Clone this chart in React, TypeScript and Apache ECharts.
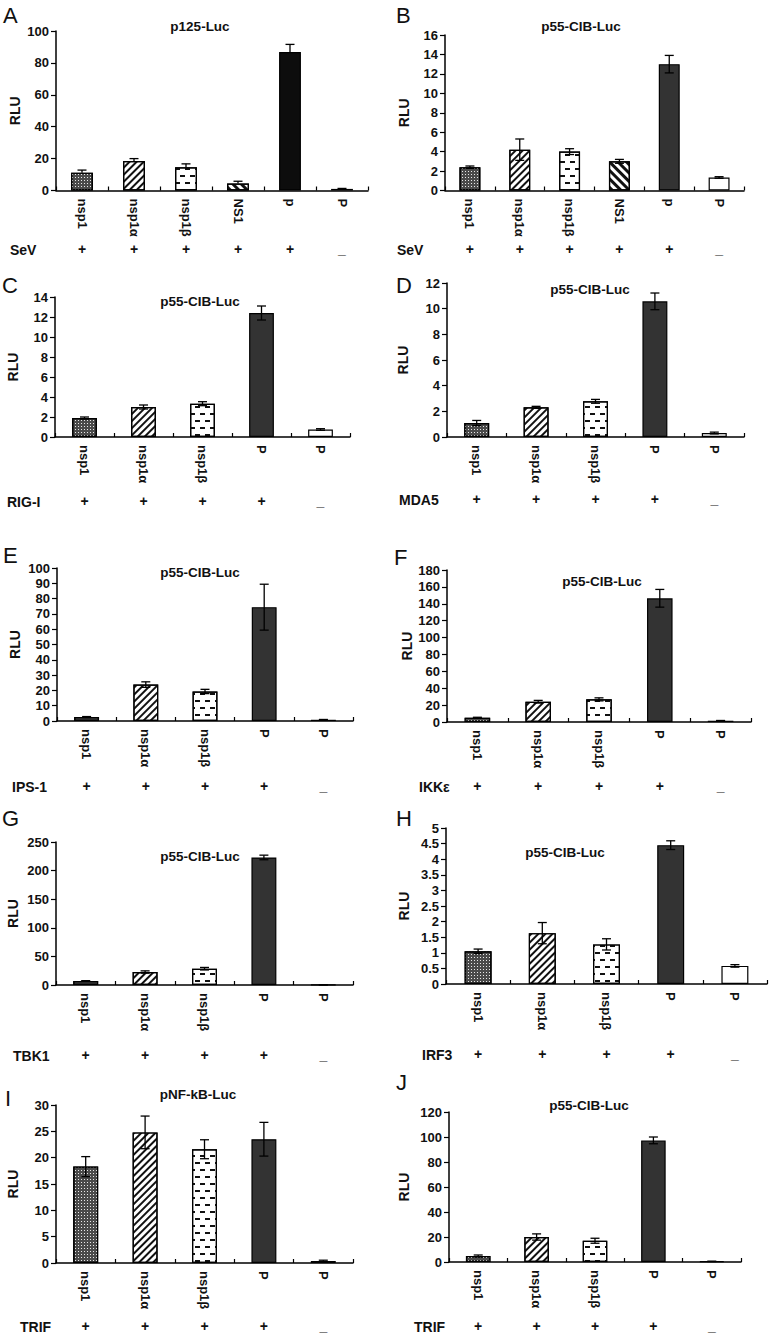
import React, { useEffect, useRef } from "react";
import * as echarts from "echarts";

// ---------------- DATA ----------------
const categoriesSeV = ["nsp1", "nsp1α", "nsp1β", "NS1", "p", "P"];
const categoriesOther = ["nsp1", "nsp1α", "nsp1β", "P", "P"];

const signsSeV = ["+", "+", "+", "+", "+", "_"];
const signsOther = ["+", "+", "+", "+", "_"];

const panelLetters = ["A", "B", "C", "D", "E", "F", "G", "H", "I", "J"];
const panelTitles = [
  "p125-Luc",
  "p55-CIB-Luc",
  "p55-CIB-Luc",
  "p55-CIB-Luc",
  "p55-CIB-Luc",
  "p55-CIB-Luc",
  "p55-CIB-Luc",
  "p55-CIB-Luc",
  "pNF-kB-Luc",
  "p55-CIB-Luc",
];
const stimulusLabels = ["SeV", "SeV", "RIG-I", "MDA5", "IPS-1", "IKKε", "TBK1", "IRF3", "TRIF", "TRIF"];

const yMax = [100, 16, 14, 12, 100, 180, 250, 5, 30, 120];
const yInterval = [20, 2, 2, 2, 10, 20, 50, 0.5, 5, 20];

const valuesA = [11.2, 18.5, 14.6, 4.4, 86.8, 1.0];
const errorsA = [1.6, 1.5, 2.1, 1.4, 4.8, 0.3];
const valuesB = [2.4, 4.2, 4.0, 3.0, 13.0, 1.34];
const errorsB = [0.12, 1.1, 0.3, 0.2, 0.9, 0.08];
const valuesC = [1.9, 3.0, 3.33, 12.4, 0.75];
const errorsC = [0.1, 0.2, 0.2, 0.7, 0.08];
const valuesD = [1.09, 2.31, 2.78, 10.57, 0.31];
const errorsD = [0.2, 0.08, 0.15, 0.65, 0.07];
const valuesE = [2.6, 23.8, 19.3, 74.4, 0.8];
const errorsE = [0.3, 1.8, 1.4, 15, 0.2];
const valuesF = [5.1, 24, 26.8, 146.5, 1.5];
const errorsF = [0.5, 1.6, 1.8, 10.5, 0.3];
const valuesG = [7, 22.7, 28.5, 223, 0.3];
const errorsG = [0.6, 2, 2.2, 4, 0.1];
const valuesH = [1.05, 1.63, 1.27, 4.45, 0.58];
const errorsH = [0.07, 0.34, 0.18, 0.14, 0.04];
const valuesI = [18.3, 24.8, 21.6, 23.5, 0.38];
const errorsI = [1.9, 3.1, 1.8, 3.2, 0.15];
const valuesJ = [4.8, 20, 17, 97.3, 0.5];
const errorsJ = [0.8, 2.5, 2, 2.7, 0.1];

const panelValues = [valuesA, valuesB, valuesC, valuesD, valuesE, valuesF, valuesG, valuesH, valuesI, valuesJ];
const panelErrors = [errorsA, errorsB, errorsC, errorsD, errorsE, errorsF, errorsG, errorsH, errorsI, errorsJ];

// ---------------- LAYOUT / STYLE ----------------
// [axisLeft, axisRight, axisTop, axisZero]
const gridBoxes = [
  [56, 368, 31, 190.5],
  [445, 744, 35, 190.5],
  [55, 350, 297, 437],
  [447, 744, 283, 437],
  [57, 353, 568, 721],
  [447, 751, 570, 722],
  [56, 353, 842, 985],
  [446, 767, 828, 984],
  [56, 353, 1105, 1263],
  [449, 741, 1112, 1262],
];
const titlePos = [
  [200, 27], [581, 27], [200, 302], [590, 290], [200, 573],
  [602, 582], [200, 857], [565, 853], [198, 1095], [589, 1106],
];
const letterPos = [
  [3, 15], [396, 15], [2, 285], [396, 285], [3, 555],
  [394, 557], [2, 818], [396, 818], [5, 1098], [396, 1082],
];
const rowPos = [
  [10, 250], [397, 250], [7, 502], [399, 500], [12, 787],
  [419, 787], [13, 1056], [422, 1055], [20, 1327], [414, 1327],
];
const rluDist = [41, 41, 42, 44, 42, 40, 43, 42, 43, 45];

const FONT = '"Liberation Sans", Arial, Helvetica, sans-serif';

const BORDER = { borderColor: "#000", borderWidth: 1.2 };

function styleFor(kind: string, panel: number) {
  switch (kind) {
    case "dots":
      return {
        ...BORDER,
        color: "#4a4a4a",
        decal: {
          symbol: "rect",
          symbolSize: 1,
          color: "#e8e8e8",
          backgroundColor: "#4a4a4a",
          dashArrayX: [1, 2],
          dashArrayY: [1, 2],
        },
      };
    case "diag":
      return {
        ...BORDER,
        color: "#fff",
        decal: {
          symbol: "rect",
          symbolSize: 1,
          color: "#111",
          backgroundColor: "#fff",
          dashArrayX: [1, 0],
          dashArrayY: [1.4, 2.4],
          rotation: -Math.PI / 4,
        },
      };
    case "dash":
      return {
        ...BORDER,
        color: "#fff",
        decal: {
          symbol: "rect",
          symbolSize: 1,
          color: "#111",
          backgroundColor: "#fff",
          dashArrayX: [[5, 5], [0, 5, 5, 0]],
          dashArrayY: [1.3, 4.5],
          rotation: 0,
        },
      };
    case "ns1":
      return {
        ...BORDER,
        color: "#fff",
        decal: {
          symbol: "rect",
          symbolSize: 1,
          color: "#111",
          backgroundColor: "#fff",
          dashArrayX: [1, 0],
          dashArrayY: [2.6, 3],
          rotation: Math.PI / 4,
        },
      };
    case "solid":
      return { ...BORDER, color: panel === 0 ? "#0d0d0d" : "#333333" };
    default:
      return { ...BORDER, color: "#ffffff" };
  }
}

const kindsSeV = ["dots", "diag", "dash", "ns1", "solid", "white"];
const kindsOther = ["dots", "diag", "dash", "solid", "white"];

function buildOption() {
  const grid: any[] = [];
  const xAxis: any[] = [];
  const yAxis: any[] = [];
  const series: any[] = [];
  const title: any[] = [];
  const graphic: any[] = [];

  for (let p = 0; p < 10; p++) {
    const [l, r, t, b] = gridBoxes[p];
    const isSeV = p < 2;
    const cats = isSeV ? categoriesSeV : categoriesOther;
    const signs = isSeV ? signsSeV : signsOther;
    const kinds = isSeV ? kindsSeV : kindsOther;
    const vals = panelValues[p];
    const errs = panelErrors[p];

    grid.push({ left: l, top: t, width: r - l, height: b - t, containLabel: false });

    xAxis.push({
      type: "category",
      gridIndex: p,
      data: cats,
      position: "bottom",
      axisLine: { show: true, lineStyle: { color: "#000", width: 1.5 } },
      axisTick: { show: true, inside: true, length: 4, lineStyle: { color: "#000", width: 1.2 } },
      axisLabel: {
        interval: 0,
        rotate: -90,
        margin: 8,
        color: "#111",
        fontSize: 13,
        fontWeight: "bold",
        fontFamily: FONT,
      },
      splitLine: { show: false },
    });
    const rowY = rowPos[p][1];
    xAxis.push({
      type: "category",
      gridIndex: p,
      data: signs,
      position: "bottom",
      offset: rowY - b - 8,
      axisLine: { show: false },
      axisTick: { show: false },
      axisLabel: {
        interval: 0,
        margin: 0,
        color: "#111",
        fontSize: 14,
        fontWeight: "bold",
        fontFamily: FONT,
      },
      splitLine: { show: false },
    });

    yAxis.push({
      type: "value",
      gridIndex: p,
      min: 0,
      max: yMax[p],
      interval: yInterval[p],
      name: "RLU",
      nameLocation: "middle",
      nameRotate: 90,
      nameGap: rluDist[p] - 7,
      nameTextStyle: { color: "#111", fontSize: 14, fontWeight: "bold", fontFamily: FONT },
      axisLine: { show: true, lineStyle: { color: "#000", width: 1.5 } },
      axisTick: { show: true, inside: false, length: 5, lineStyle: { color: "#000", width: 1.2 } },
      axisLabel: { margin: 7, color: "#111", fontSize: 13, fontWeight: "bold", fontFamily: FONT },
      splitLine: { show: false },
    });

    series.push({
      type: "bar",
      xAxisIndex: 2 * p,
      yAxisIndex: p,
      barWidth: "42%",
      data: vals.map((v, i) => ({ value: v, itemStyle: styleFor(kinds[i], p) })),
      z: 2,
    });

    const upperOnly = p === 0;
    series.push({
      type: "custom",
      xAxisIndex: 2 * p,
      yAxisIndex: p,
      data: vals.map((v, i) => [i, v, errs[i]]),
      encode: { x: 0, y: 1 },
      z: 5,
      renderItem: (params: any, api: any) => {
        const i = api.value(0);
        const v = api.value(1);
        const e = api.value(2);
        const top = api.coord([i, v + e]);
        const bot = api.coord([i, upperOnly ? v : Math.max(0, v - e)]);
        const hw = 4.5;
        const st = { stroke: "#000", lineWidth: 1.3 };
        const children: any[] = [
          { type: "line", shape: { x1: top[0], y1: top[1], x2: bot[0], y2: bot[1] }, style: st },
          { type: "line", shape: { x1: top[0] - hw, y1: top[1], x2: top[0] + hw, y2: top[1] }, style: st },
        ];
        if (!upperOnly) {
          children.push({
            type: "line",
            shape: { x1: bot[0] - hw, y1: bot[1], x2: bot[0] + hw, y2: bot[1] },
            style: st,
          });
        }
        return { type: "group", children };
      },
    });

    title.push({
      text: panelTitles[p],
      left: titlePos[p][0],
      top: titlePos[p][1] - 8,
      textAlign: "center",
      padding: 0,
      textStyle: { color: "#111", fontSize: 13.5, fontWeight: "bold", fontFamily: FONT },
    });

    graphic.push({
      type: "text",
      x: letterPos[p][0],
      y: letterPos[p][1],
      style: {
        text: panelLetters[p],
        fill: "#111",
        fontSize: 22,
        fontWeight: "normal",
        fontFamily: FONT,
        verticalAlign: "middle",
        align: "left",
      },
    });
    graphic.push({
      type: "text",
      x: rowPos[p][0],
      y: rowPos[p][1],
      style: {
        text: stimulusLabels[p],
        fill: "#111",
        fontSize: 14,
        fontWeight: "bold",
        fontFamily: FONT,
        verticalAlign: "middle",
        align: "left",
      },
    });
  }

  return {
    animation: false,
    backgroundColor: "#ffffff",
    textStyle: { fontFamily: FONT },
    title,
    grid,
    xAxis,
    yAxis,
    series,
    graphic,
  };
}

export default function App() {
  const ref = useRef<HTMLDivElement>(null);
  useEffect(() => {
    document.body.style.margin = "0";
    if (!ref.current) return;
    const chart = echarts.init(ref.current, null, { renderer: "svg" });
    chart.setOption(buildOption() as any);
    return () => {
      chart.dispose();
    };
  }, []);
  return <div ref={ref} style={{ width: 769, height: 1334 }} />;
}
